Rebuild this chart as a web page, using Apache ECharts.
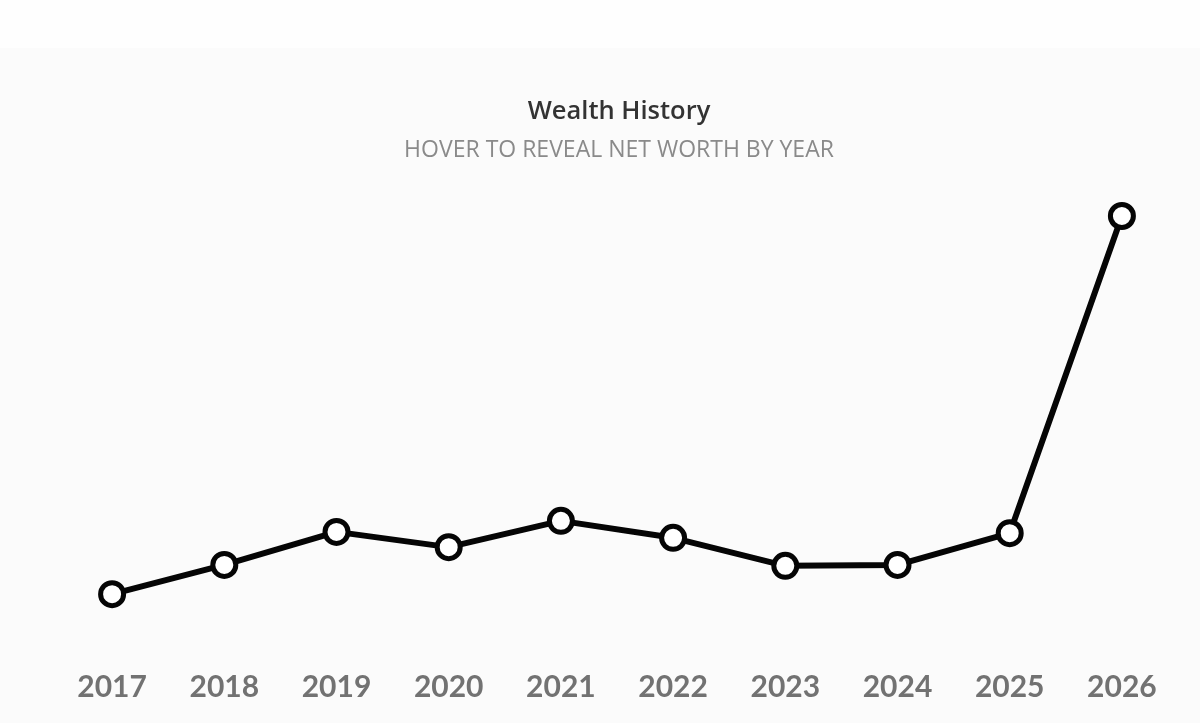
<!DOCTYPE html>
<html>
<head>
<meta charset="utf-8">
<script src="https://cdn.jsdelivr.net/npm/echarts@6/dist/echarts.min.js"></script>
<style>
html,body{margin:0;padding:0;background:#fbfbfb;}
#chart{width:1200px;height:723px;}
</style>
</head>
<body>
<div id="chart"></div>
<script>
const years = ['2017','2018','2019','2020','2021','2022','2023','2024','2025','2026'];
const netWorth = [108, 177, 255, 219, 281, 241, 175, 177, 252, 1000];
const titleText = 'Wealth History';
const subtitleText = 'HOVER TO REVEAL NET WORTH BY YEAR';

const chart = echarts.init(document.getElementById('chart'));
chart.setOption({
  backgroundColor: '#fbfbfb',
  animation: false,
  graphic: [{
    type: 'rect', left: 0, top: 0, z: -10,
    shape: { width: 1200, height: 48 },
    style: { fill: '#fefefe' }
  }],
  title: [{
    text: titleText,
    left: 614, top: 94, textAlign: 'center',
    textStyle: { fontFamily: 'Open Sans', fontWeight: 600, fontSize: 25.5, color: '#333333' }
  }, {
    text: subtitleText,
    left: 614, top: 134, textAlign: 'center',
    textStyle: { fontFamily: 'Open Sans', fontWeight: 400, fontSize: 23, color: '#8a8a8a' }
  }],
  tooltip: { trigger: 'axis' },
  grid: { left: 56, right: 22, top: 216, bottom: 83, containLabel: false },
  xAxis: {
    type: 'category',
    data: years,
    boundaryGap: true,
    axisLine: { show: false },
    axisTick: { show: false },
    axisLabel: {
      margin: 32,
      fontFamily: 'Lato', fontWeight: 700, fontSize: 30, color: '#727272'
    }
  },
  yAxis: {
    type: 'value', min: 0, max: 1000,
    show: false,
    splitLine: { show: false }
  },
  series: [{
    type: 'line',
    data: netWorth,
    clip: false,
    symbol: 'circle',
    symbolSize: 23,
    lineStyle: { color: '#050505', width: 6 },
    itemStyle: { color: '#ffffff', borderColor: '#050505', borderWidth: 5 }
  }]
});
</script>
</body>
</html>
